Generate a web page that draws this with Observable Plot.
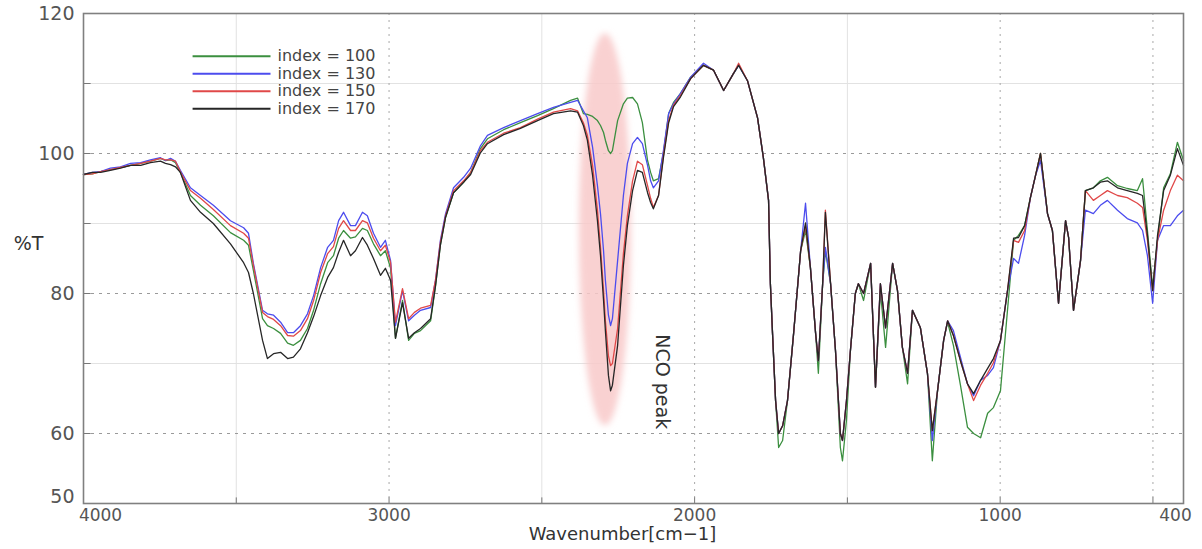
<!DOCTYPE html>
<html><head><meta charset="utf-8">
<script src="https://cdn.jsdelivr.net/npm/d3@7"></script>
<script src="https://cdn.jsdelivr.net/npm/@observablehq/plot@0.6"></script>
<style>body{margin:0;background:#fff} svg{display:block}</style>
</head><body><div id="chart"></div>
<script>
// Wavenumber (cm-1) sample positions
const wavenumber = [4000,3971,3944,3912,3879,3846,3813,3781,3748,3732,3715,3699,3683,3650,3617,3575,3519,3476,3460,3444,
3414,3398,3378,3355,3332,3313,3290,3267,3247,3224,3201,3182,3165,3149,3126,3110,3087,3071,3051,3028,
3012,2995,2979,2956,2936,2917,2897,2864,2848,2832,2815,2789,2756,2733,2701,2678,2625,2570,2514,2462,
2406,2383,2364,2351,2334,2318,2308,2298,2292,2282,2275,2269,2252,2233,2220,2203,2187,2171,2154,2144,
2135,2118,2102,2085,2069,2046,2013,1971,1938,1905,1873,1856,1827,1794,1775,1758,1752,1745,1735,1725,
1712,1696,1676,1653,1637,1621,1604,1595,1581,1572,1555,1539,1523,1516,1503,1490,1474,1464,1447,1424,
1408,1392,1375,1352,1336,1320,1303,1287,1261,1238,1222,1205,1185,1172,1153,1130,1107,1087,1064,1041,
1022,999,976,956,940,920,901,884,868,845,829,809,786,776,760,737,721,695,672,649,
616,584,551,534,518,501,485,465,443,420,400];

// %T, index = 130 (blue)
const index130 = [97.0,97.3,97.4,97.9,98.1,98.6,98.7,99.1,99.4,99.0,99.3,98.9,97.6,95.1,94.0,92.6,90.4,89.4,88.6,84.3,
77.6,77.1,76.9,75.9,74.4,74.4,75.4,77.1,79.7,83.7,86.6,87.6,90.4,91.6,89.7,89.7,91.6,91.1,88.6,86.6,
87.6,84.7,75.4,80.4,76.1,76.9,77.6,78.0,81.9,87.6,91.4,95.1,96.6,97.9,101.1,102.6,103.7,104.7,105.7,106.6,
107.3,107.6,106.1,105.1,100.9,95.4,91.4,86.1,81.9,76.9,75.4,76.4,84.7,94.0,98.6,101.4,102.3,101.4,98.3,96.1,
95.1,96.1,100.4,105.7,107.1,108.6,110.9,112.9,111.9,109.0,111.4,112.6,110.4,105.1,99.4,93.3,81.4,74.3,64.7,60.0,
61.1,64.7,74.3,86.1,92.9,83.7,74.3,70.4,81.4,86.6,81.4,71.9,60.0,59.0,64.7,71.9,80.0,81.4,80.0,84.3,
66.6,81.4,75.1,84.3,80.4,72.3,68.6,77.6,75.1,68.6,59.0,66.1,73.3,76.1,74.7,70.9,67.1,65.4,67.6,68.3,
69.4,73.3,80.4,85.0,84.3,88.3,93.7,96.9,99.0,91.4,89.0,78.6,90.4,88.0,77.6,84.7,91.9,91.4,92.6,93.3,
91.9,90.7,90.1,89.0,85.4,78.6,87.6,89.7,89.7,91.1,91.9];

// %T, index = 150 (red)
const index150 = [97.0,97.1,97.4,97.7,98.0,98.3,98.6,98.9,99.3,99.1,99.1,98.9,97.4,94.7,93.6,92.0,89.7,88.6,87.9,84.0,
77.3,76.7,76.3,75.4,74.0,73.9,74.7,76.4,79.0,83.0,85.7,86.7,89.3,90.4,89.0,89.0,90.4,90.1,87.9,86.1,
86.9,84.4,75.9,80.7,76.4,77.3,77.9,78.3,81.9,87.3,91.1,94.7,96.1,97.3,100.4,101.6,102.9,103.7,104.9,105.9,
106.4,106.1,104.4,102.6,98.3,91.9,86.6,80.4,76.1,71.1,69.7,70.0,75.0,85.7,91.1,96.1,98.9,98.4,95.4,93.6,
92.3,94.0,99.7,104.7,106.9,108.3,110.7,112.6,111.9,109.0,111.4,112.9,110.4,105.1,99.4,93.3,81.4,74.3,64.7,60.0,
61.1,64.7,74.3,86.1,89.7,83.7,74.3,70.4,81.4,91.9,81.4,71.9,60.0,59.0,64.7,71.9,80.0,81.4,80.0,84.3,
66.6,81.4,75.1,84.3,80.4,72.3,68.6,77.6,75.1,68.6,60.4,66.1,73.3,76.1,74.0,70.4,67.1,64.7,66.9,68.6,
70.1,73.3,80.4,87.6,87.3,89.0,93.7,96.9,100.0,91.4,89.0,78.6,90.4,88.0,77.6,84.7,94.7,93.3,94.0,94.7,
94.0,93.7,92.9,92.3,87.6,80.4,87.6,91.9,94.7,96.9,96.1];

// %T, index = 100 (green)
const index100 = [97.0,97.1,97.4,97.7,98.0,98.3,98.6,98.9,99.3,99.0,99.1,98.7,97.3,94.0,92.6,91.1,88.7,87.6,86.9,83.3,
76.4,75.4,75.0,74.3,72.9,72.6,73.3,75.0,77.6,81.4,84.4,85.4,87.9,89.0,87.9,88.1,89.3,89.0,87.1,85.4,
86.1,83.6,73.6,79.0,73.3,74.3,74.7,76.1,81.1,86.9,90.9,94.4,95.9,97.3,100.7,102.1,103.4,104.4,105.4,106.4,
107.6,107.9,105.7,105.6,105.3,104.7,104.0,103.0,101.9,100.4,100.0,100.4,104.7,107.1,107.9,108.0,107.1,104.4,99.0,97.3,
96.1,96.4,100.1,105.7,107.3,108.6,110.9,112.6,111.9,109.0,111.4,112.6,110.4,105.1,99.4,93.3,81.4,74.3,64.7,58.0,
59.0,64.7,74.3,86.1,89.0,83.7,74.3,68.6,81.4,86.1,81.4,71.9,58.0,56.1,61.9,71.9,80.0,81.4,79.0,84.3,
66.6,80.4,72.3,84.3,80.4,72.3,67.1,77.6,75.1,68.6,56.1,66.1,73.3,75.9,72.6,66.9,60.9,60.0,59.4,62.9,
63.7,66.1,77.6,87.6,88.3,89.7,93.7,96.9,100.0,91.4,89.0,78.6,90.4,88.0,77.6,84.7,94.7,95.1,96.1,96.6,
95.4,95.0,94.7,96.4,89.0,80.9,87.6,95.1,97.1,101.6,99.0];

// %T, index = 170 (black)
const index170 = [97.0,97.3,97.3,97.6,97.9,98.3,98.3,98.7,98.9,98.6,98.4,98.1,97.3,93.3,91.6,90.0,87.1,84.4,83.0,80.0,
73.3,70.7,71.4,71.6,70.7,70.9,72.1,74.4,76.7,79.7,82.3,83.7,85.9,87.6,85.4,86.1,88.0,86.9,85.0,82.6,
83.6,81.9,73.6,78.7,73.6,74.4,75.0,76.4,81.1,86.9,90.9,94.4,95.9,97.0,100.1,101.4,102.7,103.6,104.7,105.7,
106.1,105.9,104.0,101.9,96.9,90.4,85.4,79.0,74.7,68.3,66.1,66.9,72.6,84.0,89.7,94.7,97.6,97.3,94.4,93.0,
92.1,94.0,99.4,104.4,106.7,108.1,110.7,112.6,111.9,109.0,111.4,112.6,110.4,105.1,99.4,93.3,81.4,74.3,64.7,60.0,
61.1,64.7,74.3,86.1,90.1,83.7,74.3,70.4,81.4,91.6,81.4,71.9,60.0,59.0,64.7,71.9,80.0,81.4,80.0,84.3,
66.6,81.4,75.1,84.3,80.4,72.3,68.6,77.6,75.1,68.6,60.4,66.1,73.3,76.1,74.0,70.4,67.1,65.7,67.6,69.3,
70.7,73.3,80.4,87.9,88.0,89.7,93.7,96.9,100.0,91.4,89.0,78.6,90.4,88.0,77.6,84.7,94.7,95.1,95.9,96.1,
95.1,94.7,94.3,94.0,88.3,80.4,88.3,94.7,96.9,100.7,98.3];

const seriesNames = ["index = 100", "index = 130", "index = 150", "index = 170"];
const seriesValues = [index100, index130, index150, index170];
const seriesColors = ["#3b8f3f", "#4c4cee", "#e04848", "#262626"];

const xTickLabels = [4000, 3000, 2000, 1000, 400];
const yTickLabels = [50, 60, 80, 100, 120];
const xGridMajor = [3000, 2000, 1000, 500];
const xGridMinor = [3500, 2500, 1500];
const yGridMajor = [60, 80, 100];
const yGridMinor = [70, 90, 110];

// long table for the lines
const rows = [];
seriesNames.forEach((name, s) => {
  wavenumber.forEach((w, i) => rows.push({series: name, w, t: seriesValues[s][i]}));
});

// annotation: NCO band highlight (centre and half-widths in data units)
const ncoBand = {w: 2292, t: 89.1, dw: 85, dt: 28};
const ellipseMark = (index, scales) => {
  const cx = scales.x(ncoBand.w), cy = scales.y(ncoBand.t);
  const rx = Math.abs(scales.x(ncoBand.w + ncoBand.dw) - cx);
  const ry = Math.abs(scales.y(ncoBand.t + ncoBand.dt) - cy);
  const g = d3.create("svg:g");
  const f = g.append("defs").append("filter").attr("id", "soft").attr("x", "-50%").attr("y", "-20%").attr("width", "200%").attr("height", "140%");
  f.append("feGaussianBlur").attr("stdDeviation", 3);
  g.append("ellipse").attr("cx", cx).attr("cy", cy).attr("rx", rx).attr("ry", ry)
    .attr("fill", "#f8c9c9").attr("fill-opacity", 0.85).attr("filter", "url(#soft)");
  return g.node();
};

// legend placement (data coordinates)
const legendRows = seriesNames.map((name, i) => ({series: name, t: 113.9 - i * 2.5}));

const font = "DejaVu Sans";
const plot = Plot.plot({
  width: 1202,
  height: 549,
  marginLeft: 83,
  marginRight: 19,
  marginTop: 13,
  marginBottom: 46,
  style: {fontFamily: font, background: "#fff"},
  x: {domain: [4000, 400], axis: null},
  y: {domain: [50, 120], axis: null},
  color: {domain: seriesNames, range: seriesColors},
  marks: [
    Plot.ruleY(yGridMinor, {stroke: "#e2e2e2", strokeWidth: 1}),
    Plot.ruleX(xGridMinor, {stroke: "#e2e2e2", strokeWidth: 1}),
    Plot.ruleY(yGridMajor, {stroke: "#9a9a9a", strokeWidth: 1, strokeDasharray: "3,5"}),
    Plot.ruleX(xGridMajor, {stroke: "#a8a8a8", strokeWidth: 1, strokeDasharray: "2,5"}),
    ellipseMark,
    Plot.line(rows, {x: "w", y: "t", z: "series", stroke: "series", strokeWidth: 1.3, curve: "linear"}),
    // inward ticks
    Plot.ruleX([3500, 3000, 2500, 2000, 1500, 1000, 500], {y1: 50, y2: 50.8, stroke: "#777"}),
    Plot.ruleY([60, 70, 80, 90, 100, 110], {x1: 4000, x2: 3975, stroke: "#777"}),
    Plot.frame({stroke: "#808080", strokeWidth: 1.6}),
    // y tick labels
    Plot.text(yTickLabels.filter(d => d !== 50), {x: 4000, y: d => d, text: d => String(d), textAnchor: "end", dx: -9, fontSize: 19, fill: "#555"}),
    Plot.text(yTickLabels.filter(d => d === 50), {x: 4000, y: d => d, text: d => String(d), textAnchor: "end", dx: -9, dy: -7, fontSize: 19, fill: "#555"}),
    // x tick labels
    Plot.text(xTickLabels.filter(d => d !== 4000 && d !== 400), {x: d => d, y: 50, text: d => String(d), dy: 12, fontSize: 17, fill: "#555"}),
    Plot.text(xTickLabels.filter(d => d === 4000), {x: d => d, y: 50, text: d => String(d), dy: 12, dx: 17, fontSize: 17, fill: "#555"}),
    Plot.text(xTickLabels.filter(d => d === 400), {x: d => d, y: 50, text: d => String(d), dy: 12, dx: -8, fontSize: 17, fill: "#555"}),
    // axis titles
    Plot.text(["%T"], {frameAnchor: "left", y: 87.1, text: d => d, dx: -55, textAnchor: "middle", fontSize: 19, fill: "#333"}),
    Plot.text(["Wavenumber[cm\u22121]"], {frameAnchor: "bottom", x: 2236, text: d => d, dy: 36, fontSize: 18, letterSpacing: 0.8, fill: "#333"}),
    // annotation
    Plot.text(["NCO peak"], {x: 2105, y: 67.4, text: d => d, rotate: 90, fontSize: 19, fill: "#333"}),
    // legend
    Plot.link(legendRows, {x1: 3643, x2: 3388, y1: "t", y2: "t", stroke: "series", strokeWidth: 2}),
    Plot.text(legendRows, {x: 3365, y: "t", text: "series", textAnchor: "start", fontSize: 16, letterSpacing: 1.2, fill: "#444"})
  ]
});
document.getElementById("chart").appendChild(plot);
</script>
</body></html>
